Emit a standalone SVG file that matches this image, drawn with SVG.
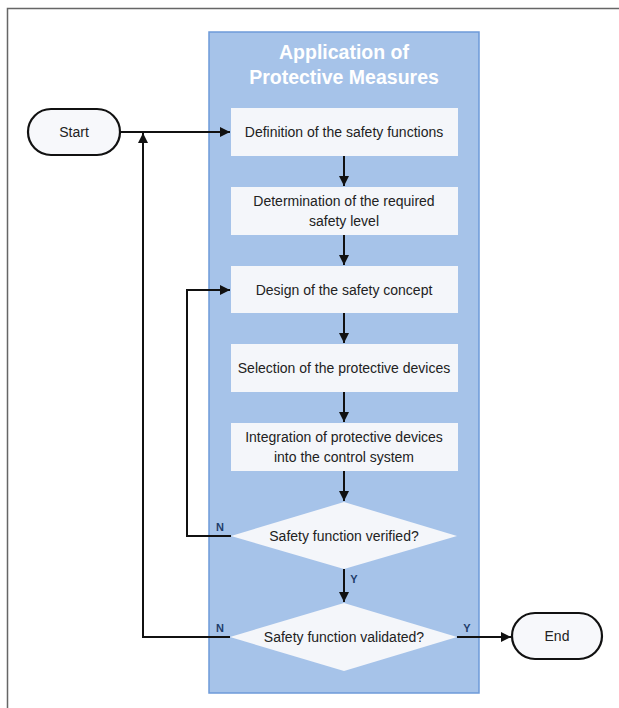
<svg xmlns="http://www.w3.org/2000/svg" width="619" height="708" viewBox="0 0 619 708">
<defs>
<marker id="ah" viewBox="0 0 10 10" refX="10" refY="5" markerWidth="5.5" markerHeight="5" orient="auto" markerUnits="strokeWidth">
<path d="M0,0 L10,5 L0,10 z" fill="#111"/>
</marker>
<style>
.t{font-family:"Liberation Sans",Arial,sans-serif;font-size:14px;fill:#222;text-anchor:middle}
.title{font-family:"Liberation Sans",Arial,sans-serif;font-size:19.5px;font-weight:bold;fill:#ffffff;text-anchor:middle}
.lbl{font-family:"Liberation Sans",Arial,sans-serif;font-size:11px;font-weight:bold;fill:#1f3d6b;text-anchor:middle}
.box{fill:#f4f6fa;stroke:none}
.term{fill:#f7f8fb;stroke:#111;stroke-width:2.2}
.c{fill:none;stroke:#111;stroke-width:2}
</style>
</defs>
<rect width="619" height="708" fill="#ffffff"/>
<path d="M7.5,708 V8.5 H619" fill="none" stroke="#666" stroke-width="1.5"/>
<g id="panel">
<rect x="209" y="32" width="270" height="661" fill="#a6c3e9" stroke="#6d9ad9" stroke-width="1.5"/>
<text class="title" x="344" y="59">Application of</text>
<text class="title" x="344" y="84">Protective Measures</text>
</g>
<g id="start"><rect class="term" x="28" y="109" width="92" height="46" rx="23"/><text class="t" x="74" y="137">Start</text></g>
<g id="n1"><rect class="box" x="231" y="108" width="227" height="48"/><text class="t" x="344" y="137">Definition of the safety functions</text></g>
<g id="n2"><rect class="box" x="231" y="187" width="227" height="48"/><text class="t" x="344" y="206">Determination of the required</text><text class="t" x="344" y="226">safety level</text></g>
<g id="n3"><rect class="box" x="231" y="266" width="227" height="47"/><text class="t" x="344" y="295">Design of the safety concept</text></g>
<g id="n4"><rect class="box" x="231" y="344" width="227" height="48"/><text class="t" x="344" y="373">Selection of the protective devices</text></g>
<g id="n5"><rect class="box" x="231" y="423" width="227" height="48"/><text class="t" x="344" y="442">Integration of protective devices</text><text class="t" x="344" y="462">into the control system</text></g>
<g id="d1"><polygon class="box" points="231,536 344,502 457,536 344,569"/><text class="t" x="344" y="541">Safety function verified?</text></g>
<g id="d2"><polygon class="box" points="230,637 344,603 457,637 344,671"/><text class="t" x="344" y="642">Safety function validated?</text></g>
<g id="end"><rect class="term" x="512" y="613" width="90" height="46" rx="23"/><text class="t" x="557" y="641">End</text></g>
<g id="connectors">
<line class="c" x1="120" y1="132" x2="230" y2="132" marker-end="url(#ah)"/>
<line class="c" x1="344" y1="156" x2="344" y2="186" marker-end="url(#ah)"/>
<line class="c" x1="344" y1="235" x2="344" y2="265" marker-end="url(#ah)"/>
<line class="c" x1="344" y1="313" x2="344" y2="343" marker-end="url(#ah)"/>
<line class="c" x1="344" y1="392" x2="344" y2="422" marker-end="url(#ah)"/>
<line class="c" x1="344" y1="471" x2="344" y2="501" marker-end="url(#ah)"/>
<line class="c" x1="344" y1="569" x2="344" y2="602" marker-end="url(#ah)"/>
<polyline class="c" points="231,536 187,536 187,290 230,290" marker-end="url(#ah)"/>
<polyline class="c" points="230,637 143,637 143,133" marker-end="url(#ah)"/>
<line class="c" x1="457" y1="637" x2="511" y2="637" marker-end="url(#ah)"/>
<text class="lbl" x="220" y="531">N</text>
<text class="lbl" x="354" y="583">Y</text>
<text class="lbl" x="220" y="632">N</text>
<text class="lbl" x="467" y="632">Y</text>
</g>
</svg>
